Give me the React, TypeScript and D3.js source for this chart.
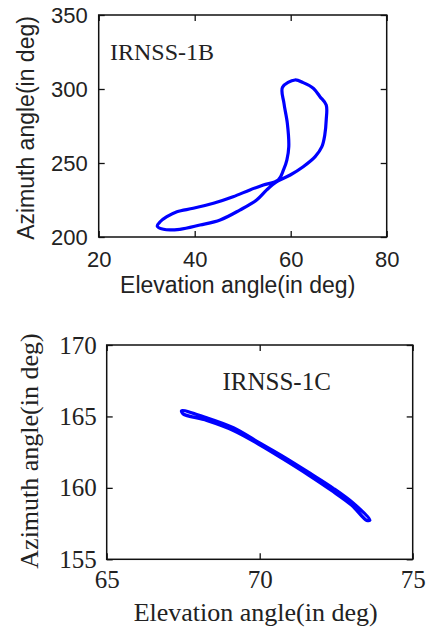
import React, { useEffect, useRef } from "react";
import * as d3 from "d3";

// IRNSS-1B track (elevation, azimuth) in degrees
const elev1B = [60.9, 58.3, 58.6, 59.3, 59.6, 59.2, 58.5, 57.4, 54.3, 51.5, 48.0, 43.9, 39.7, 36.3, 34.2, 32.8, 32.2, 33.5, 36.9, 41.1, 45.3, 49.4, 52.9, 55.0, 57.1, 59.9, 62.6, 65.1, 66.5, 67.1, 67.4, 67.4, 66.1, 64.7, 62.6];
const azim1B = [306.1, 301.2, 290.3, 276.8, 261.0, 252.0, 245.3, 238.5, 235.1, 231.8, 227.2, 222.8, 219.4, 217.1, 213.7, 210.3, 207.4, 205.2, 205.2, 208.1, 211.5, 218.2, 225.0, 231.8, 237.4, 241.9, 247.5, 254.3, 261.0, 268.9, 279.1, 289.2, 294.8, 300.5, 304.3];

// IRNSS-1C track, out and back (narrow band)
const elev1C = [67.45, 68.27, 69.14, 70.01, 70.77, 71.64, 72.4, 73.06, 73.6, 73.5, 73.0, 72.35, 71.6, 70.75, 70.0, 69.14, 68.27, 67.5];
const azim1C = [165.4, 164.9, 164.2, 163.12, 162.18, 161.02, 159.97, 158.92, 157.75, 157.72, 158.8, 159.82, 160.9, 162.05, 163.02, 164.02, 164.72, 165.18];

const xTicks1B = [20, 40, 60, 80];
const yTicks1B = [200, 250, 300, 350];
const xTicks1C = [65, 70, 75];
const yTicks1C = [155, 160, 165, 170];

function drawPanel(svg, cfg) {
  const g = svg.append("g");
  const x = d3.scaleLinear().domain(cfg.xDomain).range(cfg.xRange);
  const y = d3.scaleLinear().domain(cfg.yDomain).range(cfg.yRange);
  const [x0, x1] = cfg.xRange;
  const [y1, y0] = cfg.yRange;

  g.append("rect")
    .attr("x", x0).attr("y", y0)
    .attr("width", x1 - x0).attr("height", y1 - y0)
    .attr("fill", "white").attr("stroke", "#111").attr("stroke-width", 1.5);

  const styleAxis = (sel, hide) => {
    sel.select(".domain").remove();
    sel.selectAll("line").attr("stroke", "#111").attr("stroke-width", 1.3);
    sel.selectAll("text")
      .attr("font-family", cfg.tickFont)
      .attr("font-size", cfg.tickSize)
      .attr("fill", "#222");
    if (hide) sel.selectAll("text").remove();
  };

  g.append("g").attr("transform", `translate(0,${y1})`)
    .call(d3.axisBottom(x).tickValues(cfg.xTicks).tickSize(-6).tickPadding(cfg.xPad).tickFormat(d3.format("d")))
    .call(s => styleAxis(s, false));
  g.append("g").attr("transform", `translate(0,${y0})`)
    .call(d3.axisTop(x).tickValues(cfg.xTicks).tickSize(-6))
    .call(s => styleAxis(s, true));
  g.append("g").attr("transform", `translate(${x0},0)`)
    .call(d3.axisLeft(y).tickValues(cfg.yTicks).tickSize(-6).tickPadding(cfg.yPad).tickFormat(d3.format("d")))
    .call(s => styleAxis(s, false));
  g.append("g").attr("transform", `translate(${x1},0)`)
    .call(d3.axisRight(y).tickValues(cfg.yTicks).tickSize(-6))
    .call(s => styleAxis(s, true));

  const pts = cfg.xs.map((v, i) => [v, cfg.ys[i]]);
  const line = d3.line().x(d => x(d[0])).y(d => y(d[1]))
    .curve(d3.curveCatmullRomClosed.alpha(0.5));
  g.append("path")
    .attr("d", line(pts))
    .attr("fill", "none")
    .attr("stroke", "#0000ff")
    .attr("stroke-width", cfg.lineWidth)
    .attr("stroke-linejoin", "round");

  g.append("text")
    .attr("x", cfg.title[0]).attr("y", cfg.title[1])
    .attr("dy", "0.35em")
    .attr("text-anchor", cfg.titleAnchor)
    .attr("font-family", "Liberation Serif")
    .attr("font-size", cfg.titleSize)
    .attr("fill", "#222")
    .text(cfg.titleText);

  g.append("text")
    .attr("x", (x0 + x1) / 2 + cfg.xLabelShift).attr("y", cfg.xLabelY)
    .attr("dy", "0.35em")
    .attr("text-anchor", "middle")
    .attr("font-family", cfg.labelFont)
    .attr("font-size", cfg.labelSize)
    .attr("fill", "#222")
    .text("Elevation angle(in deg)");

  g.append("text")
    .attr("transform", `translate(${cfg.yLabelX},${cfg.yLabelY}) rotate(-90)`)
    .attr("dy", "0.35em")
    .attr("text-anchor", "middle")
    .attr("font-family", cfg.labelFont)
    .attr("font-size", cfg.labelSize)
    .attr("fill", "#222")
    .text("Azimuth angle(in deg)");
}

export default function App() {
  const ref = useRef(null);

  useEffect(() => {
    const svg = d3.select(ref.current);
    svg.selectAll("*").remove();

    drawPanel(svg, {
      xDomain: [20, 80], xRange: [98.7, 386.7],
      yDomain: [200, 350], yRange: [237, 15],
      xTicks: xTicks1B, yTicks: yTicks1B,
      xPad: 14, yPad: 11,
      tickFont: "Liberation Sans", tickSize: 22,
      labelFont: "Liberation Sans", labelSize: 23,
      xs: elev1B, ys: azim1B, lineWidth: 3.2,
      title: [110, 52], titleAnchor: "start", titleSize: 24, titleText: "IRNSS-1B",
      xLabelY: 285, xLabelShift: -5, yLabelX: 26, yLabelY: 128
    });

    drawPanel(svg, {
      xDomain: [65, 75], xRange: [106.7, 412.7],
      yDomain: [155, 170], yRange: [559.3, 345],
      xTicks: xTicks1C, yTicks: yTicks1C,
      xPad: 11, yPad: 10,
      tickFont: "Liberation Serif", tickSize: 25,
      labelFont: "Liberation Serif", labelSize: 26,
      xs: elev1C, ys: azim1C, lineWidth: 3.4,
      title: [276.7, 381.7], titleAnchor: "middle", titleSize: 25, titleText: "IRNSS-1C",
      xLabelY: 612, xLabelShift: -4, yLabelX: 29, yLabelY: 451
    });
  }, []);

  return (
    <svg
      ref={ref}
      width={426}
      height={630}
      style={{ position: "absolute", left: 0, top: 0, background: "white" }}
    />
  );
}
